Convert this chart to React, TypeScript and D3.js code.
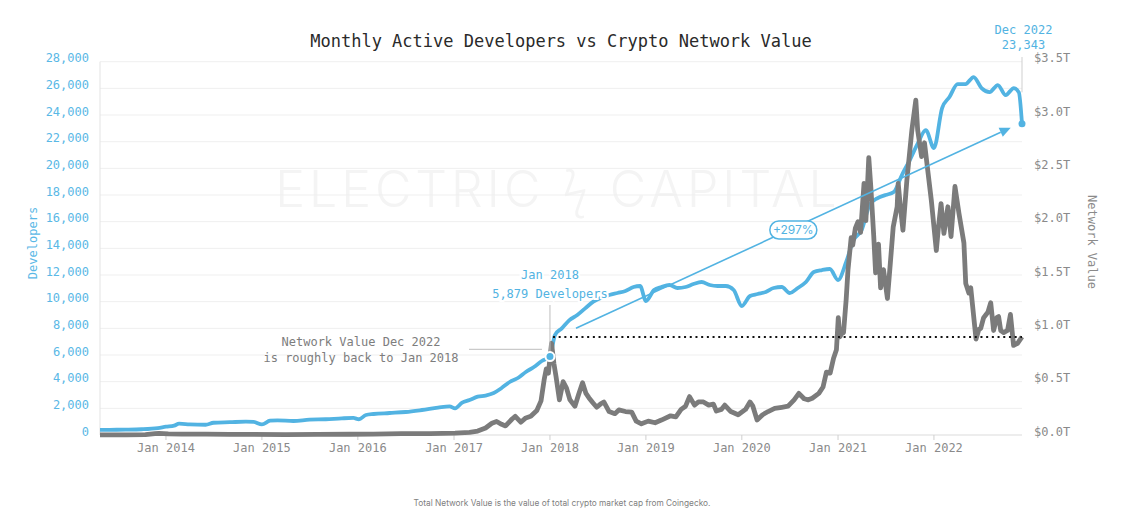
import React from "react";
import * as d3 from "d3";

// ---------- DATA ----------
const devDates = [
  "2013-04-25","2013-06-01","2013-08-01","2013-10-01","2013-12-01","2014-01-01","2014-02-01","2014-02-20",
  "2014-04-01","2014-06-01","2014-07-01","2014-09-01","2014-11-01","2014-12-01","2015-01-01","2015-02-01",
  "2015-03-01","2015-05-01","2015-07-01","2015-09-01","2015-11-01","2015-12-15","2016-01-05","2016-02-01",
  "2016-03-01","2016-05-01","2016-07-01","2016-09-01","2016-11-01","2016-12-15","2017-01-05","2017-02-01",
  "2017-03-01","2017-04-01","2017-05-01","2017-06-01","2017-07-01","2017-08-01","2017-09-01","2017-10-01",
  "2017-11-01","2017-12-01","2018-01-01","2018-01-20","2018-02-15","2018-03-15","2018-04-15","2018-05-15",
  "2018-06-15","2018-07-15","2018-08-15","2018-09-15","2018-10-15","2018-11-15","2018-12-10","2019-01-01",
  "2019-02-01","2019-03-01","2019-04-01","2019-05-01","2019-06-01","2019-07-01","2019-08-01","2019-09-01",
  "2019-10-01","2019-11-01","2019-12-01","2020-01-01","2020-02-01","2020-03-01","2020-04-01","2020-05-01",
  "2020-06-01","2020-07-01","2020-08-01","2020-09-01","2020-10-01","2020-11-01","2020-12-01","2021-01-01",
  "2021-02-01","2021-03-01","2021-04-01","2021-05-01","2021-06-01","2021-07-01","2021-08-01","2021-09-01",
  "2021-10-01","2021-11-01","2021-12-01","2022-01-01","2022-02-01","2022-03-01","2022-04-01","2022-05-01",
  "2022-06-01","2022-07-01","2022-08-01","2022-09-01","2022-10-01","2022-11-01","2022-11-20","2022-12-02",
];
const devValues = [
  380,390,400,430,520,620,700,850,
  800,770,920,960,1000,980,800,1070,
  1100,1050,1150,1180,1250,1280,1180,1500,
  1575,1650,1725,1875,2050,2150,2000,2425,
  2625,2875,2960,3150,3525,3975,4275,4725,
  5100,5550,5879,7500,8000,8600,9000,9500,
  10000,10300,10500,10650,10800,11100,11175,10050,
  10875,11100,11250,11025,11100,11325,11475,11250,
  11175,11175,10875,9675,10425,10575,10725,11025,
  11100,10650,11025,11475,12225,12375,12450,11625,
  12975,14625,15375,17250,17775,18000,18225,19500,
  20625,21900,22875,21525,24525,25350,26325,26325,
  26850,26025,25725,26250,25500,26025,25700,23343,
];

const nvDates = [
  "2013-04-25","2013-08-01","2013-10-15","2013-11-20","2013-12-05","2014-01-10","2014-03-01","2014-06-01",
  "2014-09-01","2014-12-01","2015-04-01","2015-08-01","2015-12-01","2016-03-01","2016-06-15","2016-10-01",
  "2017-01-05","2017-03-01","2017-04-01","2017-05-01","2017-05-25","2017-06-12","2017-07-01","2017-07-16",
  "2017-08-10","2017-08-22","2017-09-12","2017-10-01","2017-10-20","2017-11-12","2017-11-28","2017-12-10",
  "2017-12-18","2017-12-26","2018-01-07","2018-01-16","2018-01-24","2018-02-06","2018-02-20","2018-03-05",
  "2018-03-18","2018-04-06","2018-04-20","2018-05-05","2018-05-18","2018-05-29","2018-06-14","2018-06-28",
  "2018-07-12","2018-07-25","2018-08-14","2018-09-05","2018-09-20","2018-10-15","2018-11-08","2018-11-25",
  "2018-12-15","2019-01-10","2019-02-05","2019-03-01","2019-04-05","2019-04-25","2019-05-15","2019-06-01",
  "2019-06-16","2019-07-05","2019-07-20","2019-08-08","2019-08-28","2019-09-15","2019-09-26","2019-10-15",
  "2019-10-28","2019-11-20","2019-12-18","2020-01-15","2020-02-01","2020-02-12","2020-02-28","2020-03-20",
  "2020-04-10","2020-05-05","2020-06-01","2020-06-25","2020-07-18","2020-08-05","2020-08-25","2020-09-10",
  "2020-09-25","2020-10-20","2020-11-05","2020-11-18","2020-12-02","2020-12-15","2020-12-26","2021-01-02",
  "2021-01-08","2021-01-15","2021-01-22","2021-02-01","2021-02-08","2021-02-20","2021-02-26","2021-03-08",
  "2021-03-18","2021-03-28","2021-04-10","2021-04-17","2021-04-28","2021-05-06","2021-05-17","2021-05-24",
  "2021-06-04","2021-06-12","2021-06-23","2021-07-08","2021-07-19","2021-07-30","2021-08-14","2021-08-18",
  "2021-08-25","2021-09-05","2021-09-20","2021-10-09","2021-10-24","2021-10-31","2021-11-15","2021-11-26",
  "2021-12-07","2021-12-22","2022-01-10","2022-01-17","2022-01-28","2022-02-08","2022-02-23","2022-03-07",
  "2022-03-22","2022-04-06","2022-04-25","2022-05-02","2022-05-14","2022-05-21","2022-06-10","2022-06-21",
  "2022-06-28","2022-07-09","2022-07-25","2022-08-05","2022-08-16","2022-08-28","2022-09-04","2022-09-12",
  "2022-09-23","2022-10-08","2022-10-19","2022-10-31","2022-11-15","2022-12-02",
];
const nvValues = [
  0.002,0.001,0.003,0.012,0.015,0.011,0.009,0.008,
  0.006,0.005,0.004,0.005,0.007,0.009,0.012,0.013,
  0.018,0.025,0.037,0.066,0.11,0.127,0.10,0.085,
  0.15,0.175,0.12,0.16,0.175,0.23,0.32,0.52,
  0.62,0.58,0.86,0.67,0.55,0.33,0.50,0.44,
  0.33,0.27,0.38,0.49,0.39,0.35,0.30,0.26,
  0.29,0.31,0.22,0.20,0.235,0.22,0.215,0.13,
  0.105,0.13,0.115,0.14,0.18,0.17,0.24,0.27,
  0.36,0.28,0.31,0.31,0.28,0.29,0.225,0.24,
  0.28,0.22,0.19,0.24,0.31,0.27,0.14,0.19,
  0.22,0.25,0.26,0.27,0.33,0.39,0.34,0.33,
  0.345,0.39,0.45,0.59,0.58,0.72,0.80,1.10,
  0.92,0.95,0.96,1.27,1.55,1.85,1.78,1.94,
  2.0,1.9,2.36,2.01,2.60,2.32,1.86,1.52,
  1.79,1.38,1.55,1.28,1.61,1.95,2.14,2.36,
  2.17,1.92,2.39,2.86,3.14,2.86,2.61,2.74,
  2.51,2.2,1.73,1.92,2.17,1.89,2.14,1.86,
  2.33,2.08,1.8,1.42,1.33,1.38,0.9,0.99,
  1.0,1.1,1.15,1.24,0.98,1.1,1.11,0.98,
  0.96,0.98,1.13,0.84,0.86,0.92,
];

const devTicks = [0,2000,4000,6000,8000,10000,12000,14000,16000,18000,20000,22000,24000,26000,28000];
const nvTicks = [0,0.5,1.0,1.5,2.0,2.5,3.0,3.5];
const yearTicks = [2014,2015,2016,2017,2018,2019,2020,2021,2022];

const domainStart = "2013-04-25";
const domainEnd = "2022-12-02";
const jan2018Value = 5879;
const jan2018Date = "2018-01-01";
const dec2022Value = 23343;
const dec2022Date = "2022-12-02";
const nvReference = 0.92; // Network value Dec 2022 level
const arrowFrom: [string, number] = ["2018-04-10", 8000];
const arrowTo: [string, number] = ["2022-10-20", 23050];
const growthLabel = "+297%";

// ---------- STYLE ----------
const BLUE = "#52b3e2";
const GRAY = "#7b7b7b";
const MONO = "'DejaVu Sans Mono', 'Liberation Mono', monospace";
const SANS = "Inter, 'Noto Sans', sans-serif";

const W = 1143, H = 522;
const M = { left: 100, right: 1022, top: 61.7, bottom: 435 };

export default function App() {
  const parse = d3.timeParse("%Y-%m-%d");
  const x = d3.scaleTime().domain([parse(domainStart)!, parse(domainEnd)!]).range([M.left, M.right]);
  const yDev = d3.scaleLinear().domain([0, 28000]).range([M.bottom, M.top]);
  const yNv = d3.scaleLinear().domain([0, 3.5]).range([M.bottom, M.top]);

  const dev = devDates.map((d, i) => ({ d: parse(d)!, v: devValues[i] }));
  const nv = nvDates.map((d, i) => ({ d: parse(d)!, v: nvValues[i] }));

  const devLine = d3.line<{ d: Date; v: number }>().x(p => x(p.d)).y(p => yDev(p.v)).curve(d3.curveMonotoneX);
  const nvLine = d3.line<{ d: Date; v: number }>().x(p => x(p.d)).y(p => yNv(p.v)).curve(d3.curveLinear);

  const fmt = d3.format(",");
  const jx = x(parse(jan2018Date)!), jy = yDev(jan2018Value);
  const ex = x(parse(dec2022Date)!), ey = yDev(dec2022Value);
  const lastLineY = yDev(devValues[devValues.length - 2]);

  const ax1 = x(parse(arrowFrom[0])!), ay1 = yDev(arrowFrom[1]);
  const ax2 = x(parse(arrowTo[0])!), ay2 = yDev(arrowTo[1]);
  const ang = Math.atan2(ay2 - ay1, ax2 - ax1);
  const ah = 11, aw = 5;
  const tip = [ax2, ay2];
  const base = [ax2 - ah * Math.cos(ang), ay2 - ah * Math.sin(ang)];
  const p1 = [base[0] + aw * Math.sin(ang), base[1] - aw * Math.cos(ang)];
  const p2 = [base[0] - aw * Math.sin(ang), base[1] + aw * Math.cos(ang)];
  const mx = (ax1 + ax2) / 2, my = (ay1 + ay2) / 2 + 2;

  const refY = yNv(nvReference);

  return (
    <div style={{ position: "absolute", left: 0, top: 0 }}>
      <svg width={W} height={H} style={{ display: "block", background: "#fff" }}>
        {/* watermark */}
        <text x={558} y={207} textAnchor="middle" fontFamily={SANS} fontWeight={300} fontSize={50}
          fill="#f4f4f4" letterSpacing={4}>ELECTRIC ϟ CAPITAL</text>

        {/* gridlines */}
        {devTicks.map(t => (
          <line key={t} x1={M.left} x2={M.right} y1={yDev(t)} y2={yDev(t)} stroke="#efefef" strokeWidth={1} />
        ))}
        <line x1={M.left} x2={M.left} y1={M.top} y2={M.bottom} stroke="#e3e3e3" strokeWidth={1} />
        <line x1={M.left} x2={M.right} y1={M.bottom} y2={M.bottom} stroke="#e3e3e3" strokeWidth={1} />
        {yearTicks.map(yr => {
          const xx = x(new Date(yr, 0, 1));
          return (
            <g key={yr}>
              <line x1={xx} x2={xx} y1={M.bottom} y2={M.bottom + 5} stroke="#cfcfcf" />
              <text x={xx} y={452} textAnchor="middle" fontFamily={MONO} fontSize={12} fill="#8a8a8a">
                {`Jan ${yr}`}
              </text>
            </g>
          );
        })}

        {/* left ticks */}
        {devTicks.map(t => (
          <text key={t} x={89} y={yDev(t) + 0.5} textAnchor="end" fontFamily={MONO} fontSize={12} fill="#5ab8e6">
            {fmt(t)}
          </text>
        ))}
        {/* right ticks */}
        {nvTicks.map(t => (
          <text key={t} x={1034} y={yNv(t) + 0.5} textAnchor="start" fontFamily={MONO} fontSize={12} fill="#8a8a8a">
            {`$${t.toFixed(1)}T`}
          </text>
        ))}

        <text transform={`translate(37,243) rotate(-90)`} textAnchor="middle" fontFamily={MONO} fontSize={12} fill="#5ab8e6">
          Developers
        </text>
        <text transform={`translate(1088,242) rotate(90)`} textAnchor="middle" fontFamily={MONO} fontSize={12} fill="#8a8a8a">
          Network Value
        </text>

        {/* title */}
        <text x={561} y={47} textAnchor="middle" fontFamily={MONO} fontSize={17} fill="#2a2a2a">
          Monthly Active Developers vs Crypto Network Value
        </text>

        {/* series */}
        <path d={devLine(dev) || ""} fill="none" stroke={BLUE} strokeWidth={3.8} strokeLinejoin="round" />
        <path d={nvLine(nv) || ""} fill="none" stroke={GRAY} strokeWidth={4.8} strokeLinejoin="round" />

        {/* reference dotted line */}
        <line x1={jx + 3} x2={M.right} y1={refY} y2={refY} stroke="#111" strokeWidth={2} strokeDasharray="2,3.7" />

        {/* arrow */}
        <line x1={ax1} y1={ay1} x2={base[0]} y2={base[1]} stroke={BLUE} strokeWidth={1.6} />
        <polygon points={`${tip[0]},${tip[1]} ${p1[0]},${p1[1]} ${p2[0]},${p2[1]}`} fill={BLUE} />
        <rect x={mx - 23.5} y={my - 9} width={47} height={18} rx={9} fill="#fff" stroke={BLUE} strokeWidth={1.5} />
        <text x={mx} y={my + 4.2} textAnchor="middle" fontFamily={SANS} fontSize={12} fill={BLUE}>{growthLabel}</text>

        {/* Jan 2018 annotation */}
        <line x1={jx} x2={jx} y1={305} y2={jy} stroke="#bdbdbd" strokeWidth={1} />
        <g fontFamily={MONO} fontSize={12} fill={BLUE} textAnchor="middle" stroke="#fff" strokeWidth={4}
          style={{ paintOrder: "stroke" }}>
          <text x={jx} y={278.5}>Jan 2018</text>
          <text x={jx} y={297.5}>{`${fmt(jan2018Value)} Developers`}</text>
        </g>
        <circle cx={jx} cy={jy} r={4.5} fill={BLUE} stroke="#fff" strokeWidth={2} />

        <line x1={469} x2={jx - 8} y1={349.3} y2={349.3} stroke="#bdbdbd" strokeWidth={1} />
        <g fontFamily={MONO} fontSize={12} fill="#7d7d7d" textAnchor="middle">
          <text x={361} y={346}>Network Value Dec 2022</text>
          <text x={361} y={362}>is roughly back to Jan 2018</text>
        </g>

        {/* Dec 2022 annotation */}
        <line x1={ex} x2={ex} y1={57} y2={lastLineY} stroke="#cfcfcf" strokeWidth={1} />
        <circle cx={ex} cy={ey} r={3.5} fill={BLUE} />
        <g fontFamily={MONO} fontSize={12} fill={BLUE} textAnchor="middle">
          <text x={ex + 1.5} y={33.5}>Dec 2022</text>
          <text x={ex + 1.5} y={48.5}>{fmt(dec2022Value)}</text>
        </g>

        {/* footnote */}
        <text x={562} y={506} textAnchor="middle" fontFamily={SANS} fontSize={8.3} fill="#808080">
          Total Network Value is the value of total crypto market cap from Coingecko.
        </text>
      </svg>
    </div>
  );
}
